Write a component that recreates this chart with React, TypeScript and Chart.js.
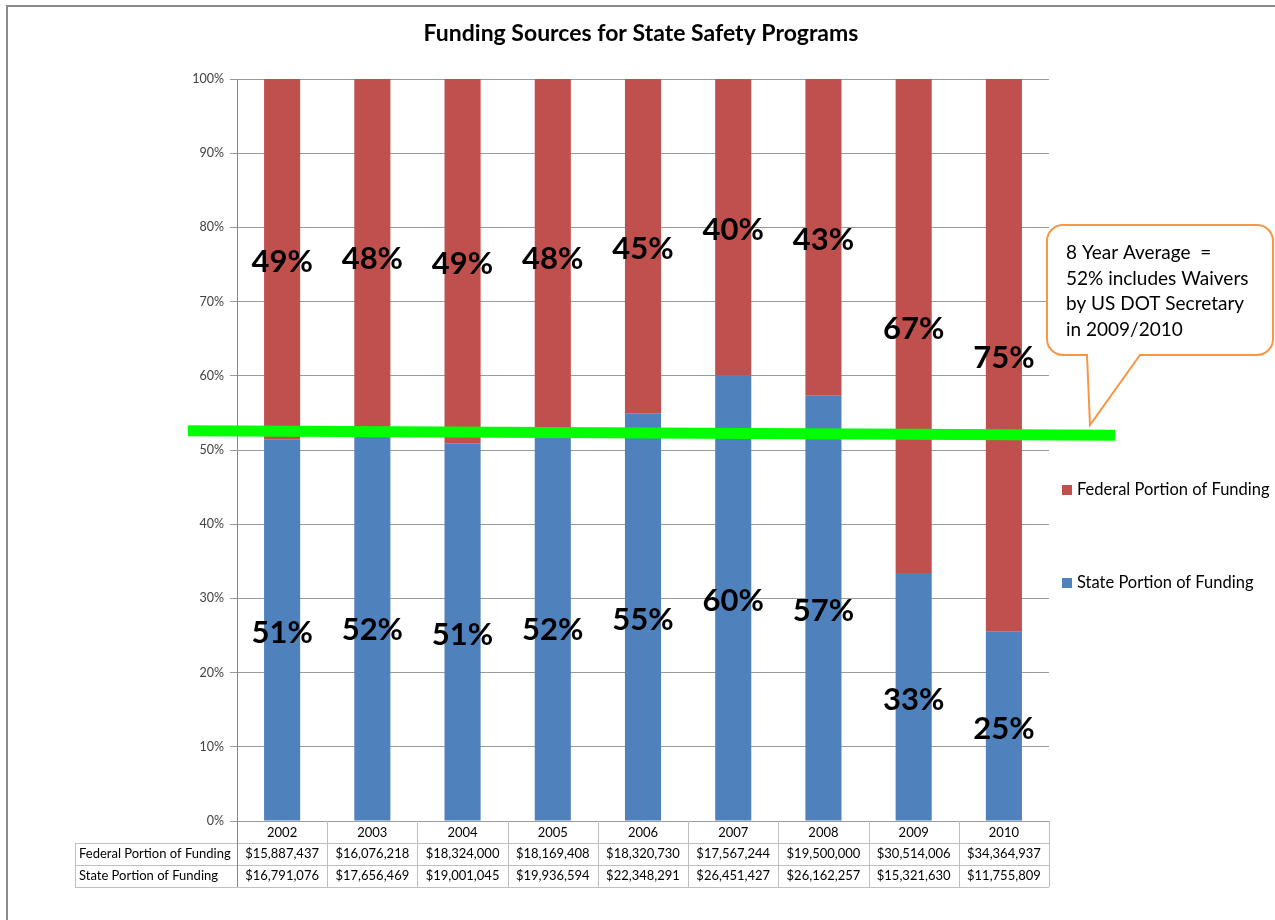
import React, { useEffect, useRef } from "react";
import { Chart, registerables } from "chart.js";

Chart.register(...registerables);

const TITLE = "Funding Sources for State Safety Programs";
const YEARS = ["2002", "2003", "2004", "2005", "2006", "2007", "2008", "2009", "2010"];
const FEDERAL_FUNDING = [15887437, 16076218, 18324000, 18169408, 18320730, 17567244, 19500000, 30514006, 34364937];
const STATE_FUNDING = [16791076, 17656469, 19001045, 19936594, 22348291, 26451427, 26162257, 15321630, 11755809];
const FEDERAL_LABEL = "Federal Portion of Funding";
const STATE_LABEL = "State Portion of Funding";
const Y_TICKS = [0, 10, 20, 30, 40, 50, 60, 70, 80, 90, 100];
const AVG_LINE = [52.6, 52.0]; // % at left end, % at right end
const CALLOUT_LINES = ["8 Year Average  =", "52% includes Waivers", "by US DOT Secretary", "in 2009/2010"];

const TOTALS = FEDERAL_FUNDING.map((f, i) => f + STATE_FUNDING[i]);
const FEDERAL_SHARE = FEDERAL_FUNDING.map((f, i) => (f / TOTALS[i]) * 100);
const STATE_SHARE = STATE_FUNDING.map((s, i) => (s / TOTALS[i]) * 100);

const FONT = 'Lato, "Open Sans", "DejaVu Sans", sans-serif';
const BLUE = "#4F81BD";
const RED = "#C0504D";

const fmt = (n: number) => "$" + n.toLocaleString("en-US");

const overlay = {
  id: "overlay",
  beforeDraw(chart: any) {
    const ctx = chart.ctx;
    ctx.save();
    ctx.fillStyle = "#fff";
    ctx.fillRect(0, 0, chart.width, chart.height);
    ctx.strokeStyle = "#8a8a8a";
    ctx.lineWidth = 2;
    ctx.beginPath();
    ctx.moveTo(7, chart.height);
    ctx.lineTo(7, 6);
    ctx.lineTo(chart.width, 6);
    ctx.stroke();
    ctx.restore();
  },
  afterDatasetsDraw(chart: any) {
    const ctx = chart.ctx;
    const area = chart.chartArea;
    const xs = chart.scales.x;
    const ys = chart.scales.y;
    ctx.save();

    // average line
    ctx.strokeStyle = "#00FF00";
    ctx.lineWidth = 11;
    ctx.beginPath();
    ctx.moveTo(area.left - 49, ys.getPixelForValue(AVG_LINE[0]));
    ctx.lineTo(area.right + 66, ys.getPixelForValue(AVG_LINE[1]));
    ctx.stroke();

    // data labels
    ctx.fillStyle = "#000";
    ctx.font = `bold 31px ${FONT}`;
    ctx.textAlign = "center";
    ctx.textBaseline = "middle";
    chart.data.datasets.forEach((ds: any, di: number) => {
      const meta = chart.getDatasetMeta(di);
      meta.data.forEach((bar: any, i: number) => {
        const cy = (bar.y + bar.base) / 2;
        ctx.fillText(Math.round(ds.data[i]) + "%", bar.x, cy + 3);
      });
    });

    // title
    ctx.font = `bold 23px ${FONT}`;
    ctx.fillText(TITLE, 641, 34);

    // callout
    const cx0 = 1047, cx1 = 1273, cy0 = 225, cy1 = 355, r = 16;
    ctx.beginPath();
    ctx.moveTo(cx0 + r, cy0);
    ctx.lineTo(cx1 - r, cy0);
    ctx.arcTo(cx1, cy0, cx1, cy0 + r, r);
    ctx.lineTo(cx1, cy1 - r);
    ctx.arcTo(cx1, cy1, cx1 - r, cy1, r);
    ctx.lineTo(1140, cy1);
    ctx.lineTo(1090, 425);
    ctx.lineTo(1087, cy1);
    ctx.lineTo(cx0 + r, cy1);
    ctx.arcTo(cx0, cy1, cx0, cy1 - r, r);
    ctx.lineTo(cx0, cy0 + r);
    ctx.arcTo(cx0, cy0, cx0 + r, cy0, r);
    ctx.closePath();
    ctx.fillStyle = "#fff";
    ctx.fill();
    ctx.strokeStyle = "#F79646";
    ctx.lineWidth = 2;
    ctx.stroke();
    ctx.fillStyle = "#000";
    ctx.font = `19px ${FONT}`;
    ctx.textAlign = "left";
    CALLOUT_LINES.forEach((t, i) => ctx.fillText(t, 1066, 253 + i * 25.5));

    // legend
    ctx.font = `16.5px ${FONT}`;
    const legend = [
      { label: FEDERAL_LABEL, color: RED, y: 490 },
      { label: STATE_LABEL, color: BLUE, y: 583 },
    ];
    legend.forEach((l) => {
      ctx.fillStyle = l.color;
      ctx.fillRect(1062, l.y - 5, 10, 10);
      ctx.fillStyle = "#000";
      ctx.fillText(l.label, 1077, l.y);
    });

    // data table
    const top = area.bottom;
    const rowH = 22;
    const tableLeft = 75;
    const half = (xs.getPixelForValue(1) - xs.getPixelForValue(0)) / 2;
    ctx.strokeStyle = "#BFBFBF";
    ctx.lineWidth = 1;
    ctx.beginPath();
    for (let r2 = 1; r2 <= 3; r2++) {
      const y = Math.round(top + r2 * rowH) + 0.5;
      ctx.moveTo(tableLeft, y);
      ctx.lineTo(area.right, y);
    }
    ctx.moveTo(tableLeft + 0.5, top + rowH);
    ctx.lineTo(tableLeft + 0.5, top + 3 * rowH);
    YEARS.forEach((_, i) => {
      const x = Math.round(xs.getPixelForValue(i) + half) + 0.5;
      ctx.moveTo(x, top);
      ctx.lineTo(x, top + 3 * rowH);
    });
    ctx.stroke();
    ctx.strokeStyle = "#868686";
    ctx.beginPath();
    ctx.moveTo(Math.round(area.left) + 0.5, top);
    ctx.lineTo(Math.round(area.left) + 0.5, top + 3 * rowH);
    ctx.stroke();

    ctx.fillStyle = "#000";
    ctx.font = `13px ${FONT}`;
    ctx.textAlign = "left";
    ctx.fillText(FEDERAL_LABEL, 79, top + rowH * 1.5);
    ctx.fillText(STATE_LABEL, 79, top + rowH * 2.5);
    ctx.textAlign = "center";
    YEARS.forEach((yr, i) => {
      const x = xs.getPixelForValue(i);
      ctx.fillText(yr, x, top + rowH * 0.5 + 1);
      ctx.fillText(fmt(FEDERAL_FUNDING[i]), x, top + rowH * 1.5);
      ctx.fillText(fmt(STATE_FUNDING[i]), x, top + rowH * 2.5);
    });

    ctx.restore();
  },
};

export default function App() {
  const ref = useRef<HTMLCanvasElement | null>(null);
  useEffect(() => {
    if (!ref.current) return;
    const chart = new Chart(ref.current, {
      type: "bar",
      data: {
        labels: YEARS,
        datasets: [
          { label: STATE_LABEL, data: STATE_SHARE, backgroundColor: BLUE, barPercentage: 0.4, categoryPercentage: 1 },
          { label: FEDERAL_LABEL, data: FEDERAL_SHARE, backgroundColor: RED, barPercentage: 0.4, categoryPercentage: 1 },
        ],
      },
      options: {
        responsive: false,
        animation: false,
        layout: { padding: { left: 0, right: 226, top: 79, bottom: 99 } },
        plugins: { legend: { display: false }, tooltip: { enabled: false }, title: { display: false } },
        scales: {
          x: { stacked: true, display: false },
          y: {
            stacked: true,
            min: 0,
            max: 100,
            afterFit: (s: any) => { s.width = 237; },
            afterBuildTicks: (s: any) => { s.ticks = Y_TICKS.map((v) => ({ value: v })); },
            ticks: {
              callback: (v: any) => v + "%",
              color: "#404040",
              font: { family: FONT, size: 12.5 },
              padding: 6,
            },
            grid: { color: "#9a9a9a", tickLength: 7, lineWidth: 1 },
            border: { color: "#868686", width: 1 },
          },
        },
      },
      plugins: [overlay],
    } as any);
    return () => chart.destroy();
  }, []);
  return (
    <div style={{ position: "absolute", left: 0, top: 0, width: 1275, height: 920 }}>
      <canvas ref={ref} width={1275} height={920} style={{ width: 1275, height: 920 }} />
    </div>
  );
}
